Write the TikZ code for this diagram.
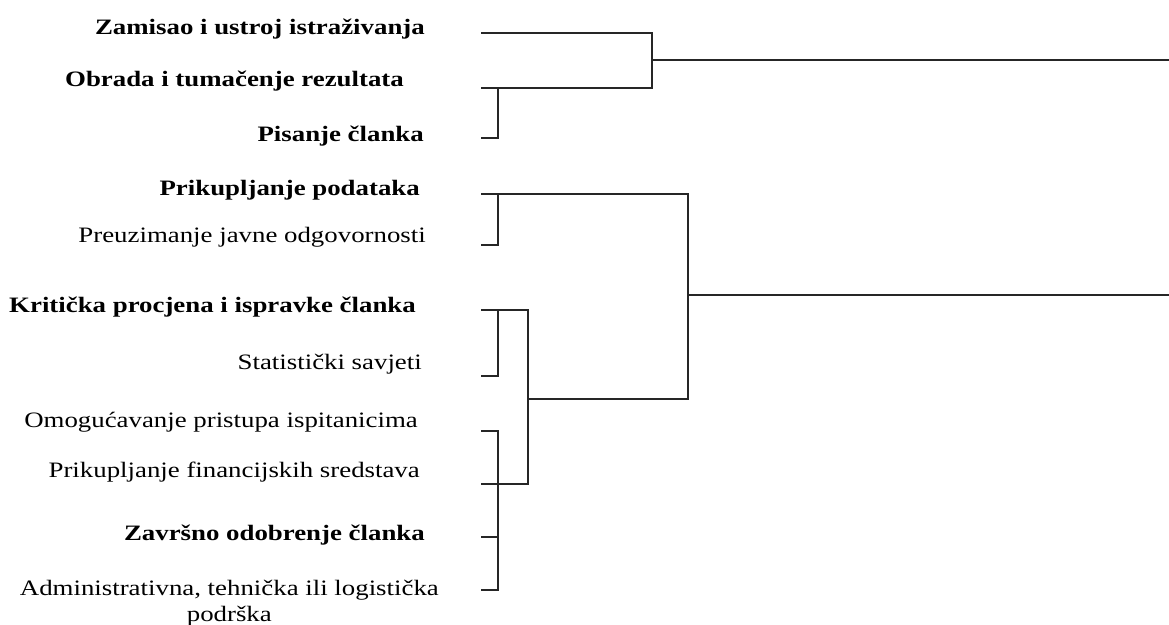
\documentclass[tikz,border=0pt]{standalone}
\usepackage{fontspec}
\setmainfont[FakeStretch=1.22]{Liberation Serif}
\begin{document}
\begin{tikzpicture}[x=1pt, y=-1pt,
    word/.style={font=\fontsize{22}{26}\selectfont, inner sep=0pt, anchor=base east},
    bword/.style={word, font=\fontsize{22}{26}\selectfont\bfseries},
    link/.style={line width=2.5pt, draw=black!85}]
    \useasboundingbox (0, 0) rectangle (1169, 624);

    % bold labels
    \foreach \name/\x/\y/\word in {zam/425/34/Zamisao i ustroj istraživanja,
        obr/404/86/Obrada i tumačenje rezultata, pis/424/141/Pisanje članka,
        prp/420/195/Prikupljanje podataka, kri/416/312/Kritička procjena i ispravke članka,
        zav/425/540/Završno odobrenje članka} {
        \node (\name) at (\x, \y) [bword] {\word};
    }

    % regular labels
    \foreach \name/\x/\y/\word in {pre/426/242/Preuzimanje javne odgovornosti,
        sta/422/369/Statistički savjeti, omo/418/427/Omogućavanje pristupa ispitanicima,
        fin/420/477/Prikupljanje financijskih sredstava} {
        \node (\name) at (\x, \y) [word] {\word};
    }
    \node (adm) at (439, 621) [word, align=center] {Administrativna, tehnička ili logistička\\podrška};

    % leaf ends
    \foreach \name/\y in {zam/33, obr/88, pis/138, prp/194, pre/245, kri/310,
        sta/376, omo/431, fin/484, zav/537, adm/590} {
        \coordinate (\name-l) at (481, \y);
    }

    % joins
    \coordinate (j1) at (652, 60);
    \coordinate (j2) at (498, 88);
    \coordinate (j3) at (688, 295);
    \coordinate (j4) at (528, 399);
    \coordinate (j5) at (498, 194);
    \coordinate (j6) at (498, 310);
    \coordinate (j7) at (498, 537);
    \coordinate (out1) at (1169, 60);
    \coordinate (out2) at (1169, 295);

    % upper tree
    \draw [link] (zam-l) -| (j1) |- (obr-l);
    \draw [link] (pis-l) -| (j2);
    \draw [link] (j1) -- (out1);

    % lower tree
    \draw [link] (prp-l) -| (j3) |- (j4);
    \draw [link] (pre-l) -| (j5);
    \draw [link] (kri-l) -| (j4) |- (fin-l);
    \draw [link] (sta-l) -| (j6);
    \draw [link] (omo-l) -| (j7) |- (adm-l);
    \draw [link] (zav-l) -- (j7);
    \draw [link] (j3) -- (out2);
\end{tikzpicture}
\end{document}
